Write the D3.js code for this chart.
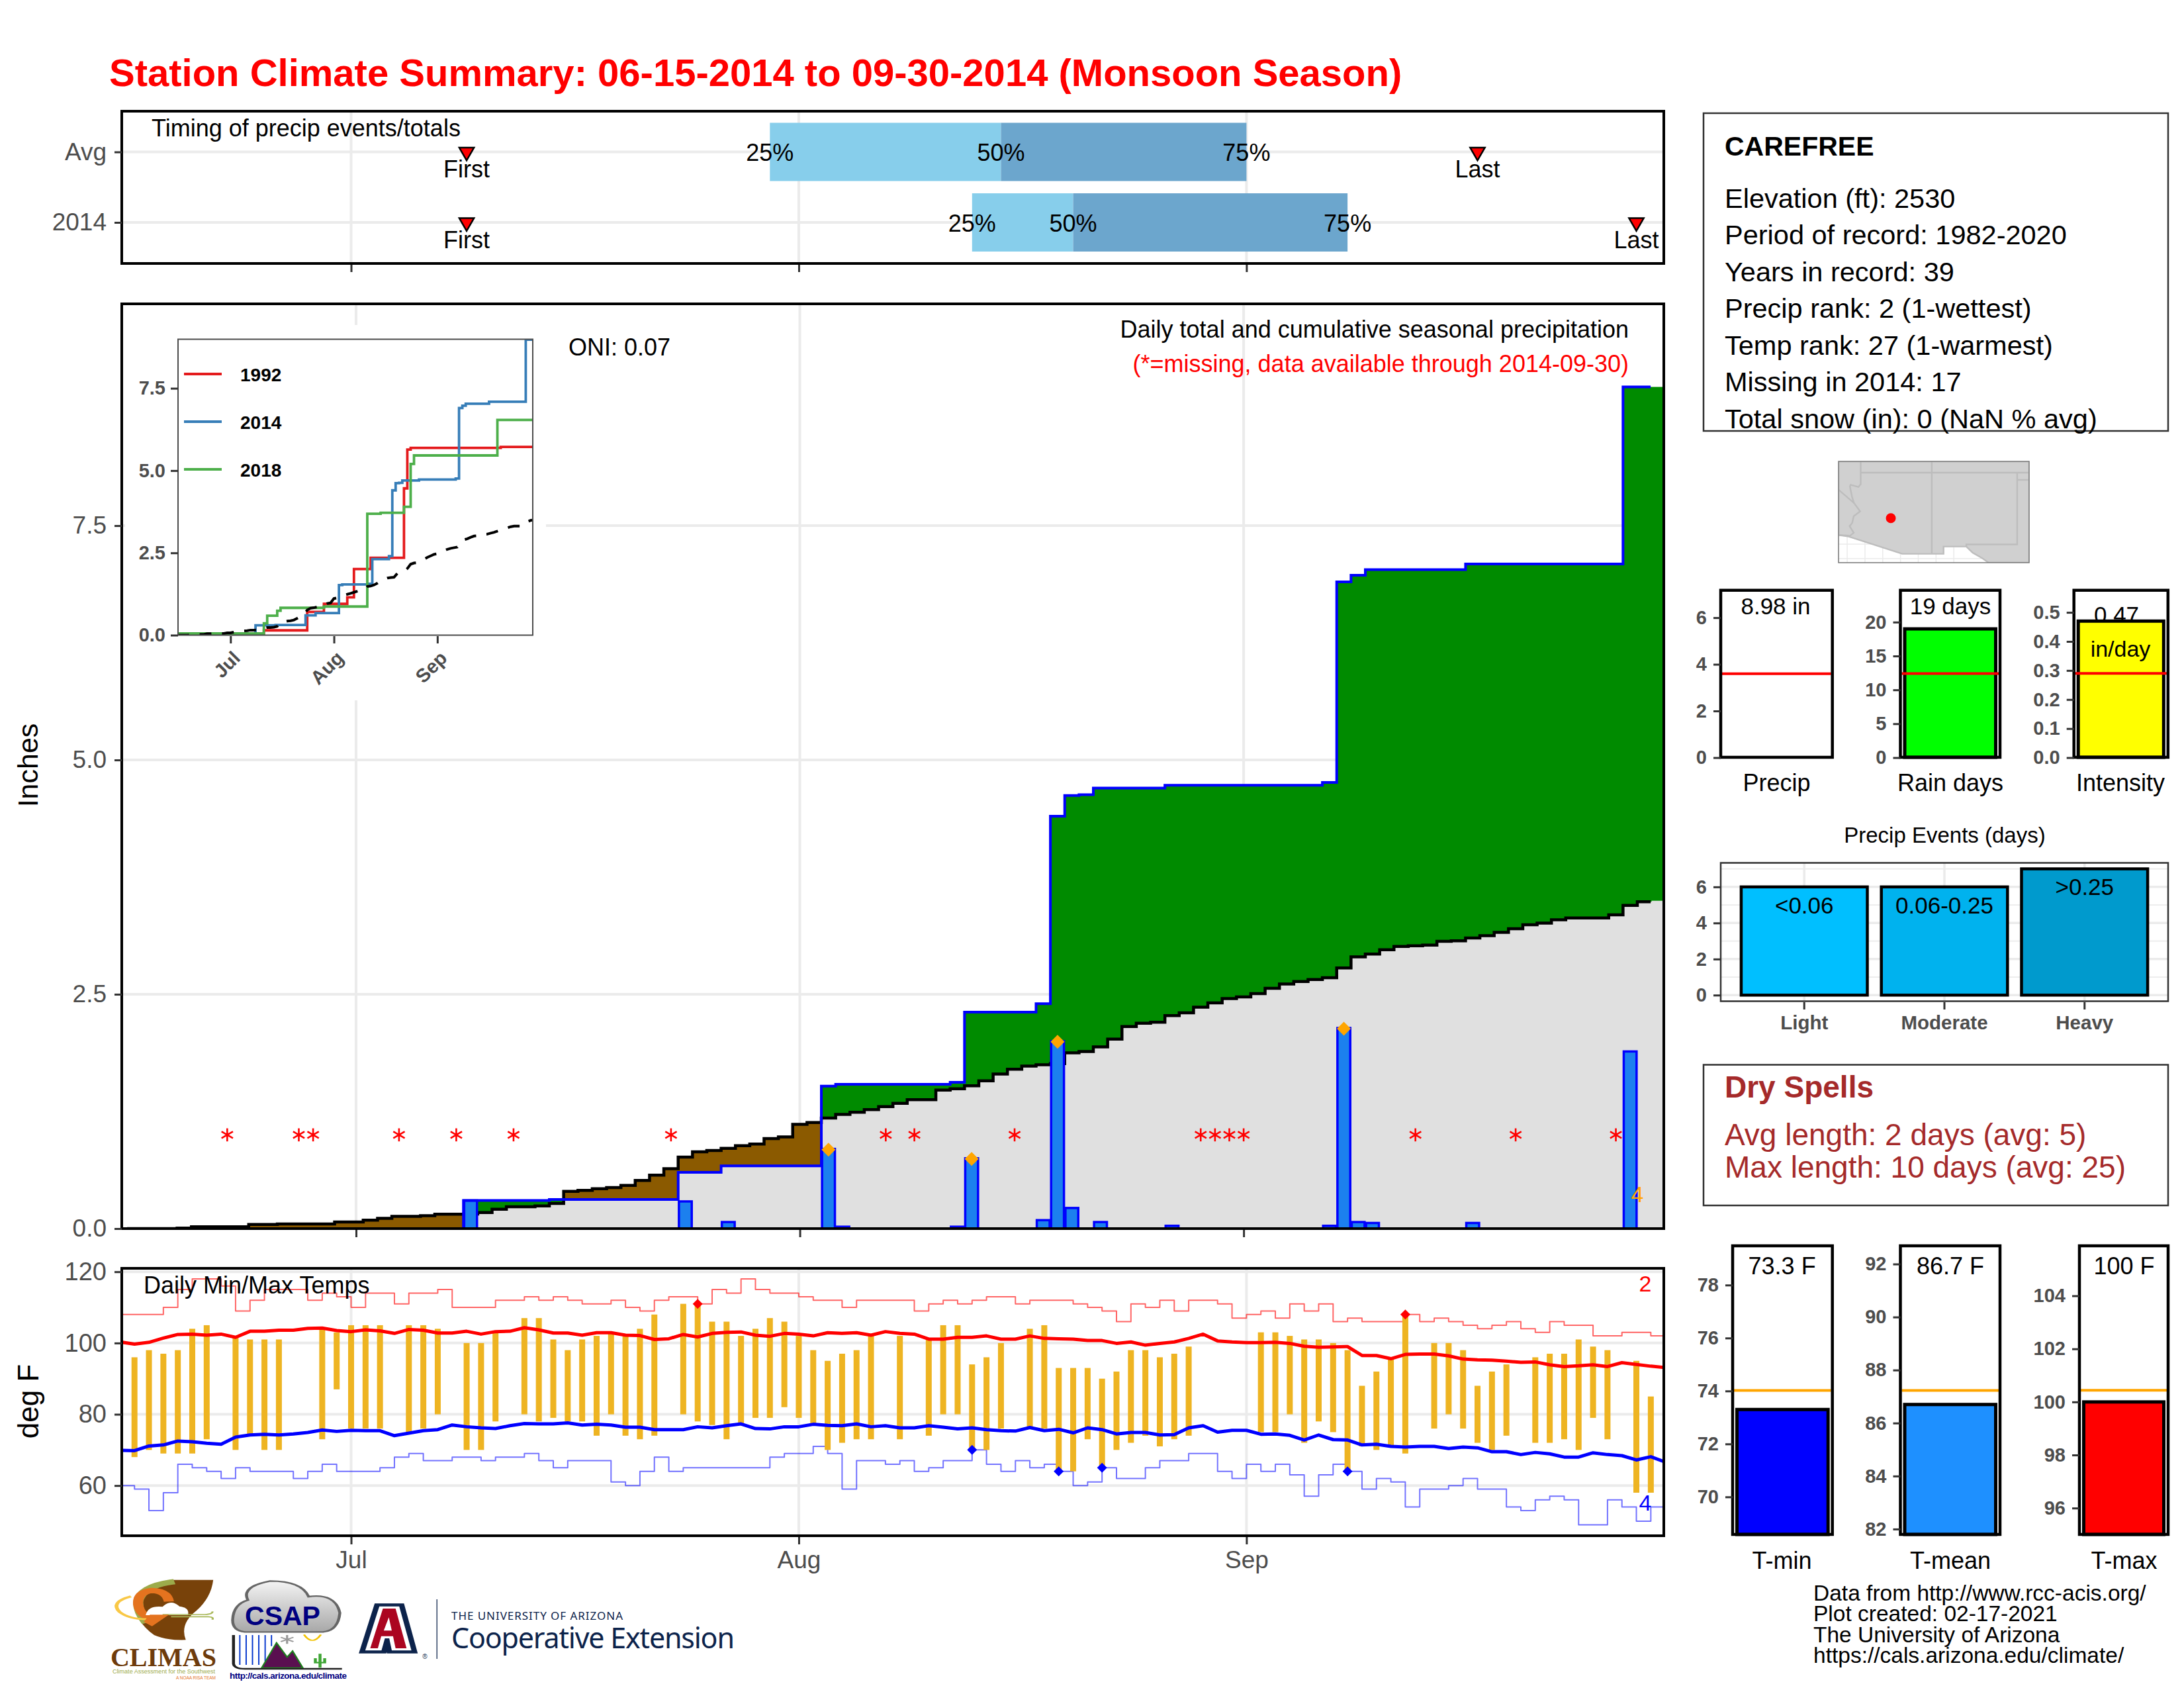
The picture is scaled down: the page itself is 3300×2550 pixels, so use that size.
<!DOCTYPE html>
<html>
<head>
<meta charset="utf-8">
<script src="https://cdn.jsdelivr.net/npm/d3@7"></script>
<style>
  body { margin: 0; background: #fff; }
  text { font-family: "Liberation Sans", Arial, sans-serif; }
</style>
</head>
<body>
<svg id="chart" width="3300" height="2550"></svg>
<script>
// all series are indexed by day number, day 0 = Jun 15 2014
var monthDays = [16, 47, 78];
var monthLabels = ['Jul', 'Aug', 'Sep'];

var timingRows = ['Avg', '2014'];
var timingFirst = [24, 24];
var timingLast = [94, 105];
var timing25 = [45, 59];
var timing50 = [61, 66];
var timing75 = [78, 85];

var climPrecip = [0,0,0,0,0.005,0.02,0.02,0.02,0.02,0.045,
  0.045,0.05,0.05,0.05,0.05,0.07,0.07,0.09,0.11,0.13,
  0.13,0.137,0.153,0.153,0.155,0.172,0.207,0.233,0.233,0.242,
  0.268,0.398,0.407,0.426,0.438,0.461,0.513,0.57,0.64,0.763,
  0.819,0.833,0.857,0.885,0.902,0.96,0.979,1.113,1.132,1.18,
  1.218,1.242,1.27,1.302,1.337,1.376,1.376,1.478,1.492,1.524,
  1.576,1.65,1.7,1.734,1.748,1.76,1.875,1.889,1.938,2.022,
  2.156,2.191,2.202,2.272,2.303,2.363,2.409,2.455,2.472,2.507,
  2.564,2.609,2.637,2.658,2.676,2.781,2.9,2.929,2.975,3.01,
  3.017,3.024,3.066,3.07,3.1,3.125,3.16,3.2,3.241,3.259,
  3.294,3.315,3.315,3.315,3.347,3.449,3.488,3.498];

var rainDays = [24,30,39,42,49,50,58,59,64,65,66,67,68,73,84,85,86,87,94,105];
var rainAmounts = [0.30,0.01,0.29,0.07,0.85,0.02,0.02,0.75,0.09,2.00,0.22,0.01,0.07,0.03,0.03,2.14,0.07,0.06,0.06,1.89];
var topRainDays = [49, 59, 65, 85];
var missingDays = [7,12,13,19,23,27,38,53,55,62,75,76,77,78,90,97,104];

var tempHigh = [null,96,98,97,98,104,105,null,102,101,101,101,null,null,104,103,105,105,105,null,
  105,105,104,null,100,100,103,null,107,107,101,98,101,102,103,102,104,108,null,
  111,111,106,106,102,104,107,106,102,98,95,97,98,102,null,102,null,
  101,105,105,94,96,100,null,104,105,93,93,93,90,92,98,98,96,97,99,null,null,null,null,
  103,103,102,101,101,100,98,88,92,96,108,null,100,100,98,88,92,94,null,96,97,97,101,99,98,null,95,85,null];
var tempLow = [null,68,70,69,69,69,73,null,70,74,70,70,null,null,73,87,76,76,76,null,
  75,76,80,null,70,70,78,null,80,78,79,78,78,74,80,74,73,74,null,
  80,78,77,73,77,79,79,82,79,77,70,72,73,73,null,73,null,
  74,80,80,70,70,76,null,76,76,64,64,73,65,70,72,74,71,73,74,null,null,null,null,
  75,75,80,72,78,75,64,71,70,71,69,null,76,80,76,72,70,74,null,72,72,73,70,79,73,null,58,58,null];

var normalHigh = [100.3,99.7,100.2,101.4,102.4,102.5,102.2,102.5,101.6,103.3,
  103.3,103.6,103.6,104.1,104.2,103.5,103.2,103.7,103.4,102.7,
  103.8,103.6,102.8,102.8,103.3,102.5,103.2,103.3,104.3,103.7,
  102.8,102.8,102.2,102.9,102.9,102.2,102.1,101,101.2,102.4,
  101.7,102.7,103,103.1,102.2,101.9,102.7,102.5,102,102.9,
  102.7,102.9,102.2,103.2,102.7,102.5,101.1,101.1,101.6,101.6,
  102,101.1,101.1,102,101.3,101.2,101.1,100.7,100.7,99.9,
  100.3,99.4,99.9,100.3,101.3,102.5,100.6,100.3,100.1,100.1,
  100.2,99.9,99.1,98.8,98.9,99,96.5,96.5,95.6,96.8,
  96.9,96.9,96.4,95.5,95.3,95.2,94.9,94.6,94.7,93.9,
  93.4,93.6,93.9,93.4,94.5,94,93.5,93.1];
var normalLow = [69.9,69.8,71.1,71.4,72.5,72.3,71.9,71.6,73.6,74.2,
  74.4,74.2,74.5,74.9,75.6,75.2,75.5,75.4,75.4,74,
  74.7,75.4,75.7,77,76.5,76.2,76,76.8,77.4,77.3,
  77.3,77.6,77,77.2,77,76.4,76.4,75.7,75.7,75.7,
  76.5,76.2,76.8,77.3,76,75.9,76.5,76.5,77.2,76.9,
  76.8,77.3,76.5,76.8,76.2,76.2,76.8,76.4,75.9,76.2,
  75.7,75.4,75.3,76.3,75.4,75.8,74.8,76.2,75.7,74.5,
  74.9,74.9,74.2,74.3,76.2,76.8,75,75.5,75.5,74.4,
  74.5,74.1,72.8,74.2,72.9,72.8,71.4,71.6,71,70.8,
  71,71,70.4,70.8,70.6,69.5,69.5,68.7,69.3,68.9,
  68,68,69.2,68.7,68.4,67.2,68.1,66.6];
var recordHigh = [108,108,108,110,115,118,118,116,109,112,
  115,115,115,112,114,113,110,114,114,111,
  114,114,115,110,110,110,112,112,113,112,
  113,112,111,111,112,110,109,112,113,113,
  111,115,114,118,115,114,114,113,112,112,
  110,112,112,112,112,109,111,112,111,112,
  113,113,111,112,112,112,111,110,109,106,
  111,110,112,109,112,112,111,107,108,109,
  107,111,109,111,106,107,106,106,106,108,
  106,107,106,105,104,105,106,104,103,106,
  105,105,102,102,103,103,102,102];
var recordLow = [60,59,53,58,66,65,64,62,65,64,
  64,64,62,64,66,64,64,64,65,68,
  69,67,67,68,68,67,68,68,69,67,
  65,67,67,67,61,60,64,68,64,65,
  65,65,65,65,65,68,69,69,71,69,
  59,67,67,66,67,64,65,67,67,70,
  66,64,67,65,66,64,60,61,65,62,
  62,65,67,67,69,69,64,62,66,64,
  66,63,57,63,66,64,59,62,61,54,
  59,59,60,62,59,59,54,53,56,57,
  56,49,49,56,54,50,54,54];
var hotDays = [40, 89];
var hotTemps = [111, 108];
var coldDays = [59, 65, 68, 85];
var coldTemps = [70, 64, 65, 64];

var y1992Days = [0,26,39,44,51,53,58,68,69,70,97,107];
var y1992Vals = [0,0.146,0.705,0.95,1.15,2.01,2.35,4.46,5.64,5.69,5.72,5.72];
var y2018Days = [0,26,27,30,31,44,57,61,68,70,71,96,107];
var y2018Vals = [0.05,0.36,0.59,0.74,0.83,0.87,3.69,3.72,3.9,5.2,5.46,6.54,6.54];

var stationLines = ['Elevation (ft): 2530', 'Period of record: 1982-2020', 'Years in record: 39',
  'Precip rank: 2 (1-wettest)', 'Temp rank: 27 (1-warmest)', 'Missing in 2014: 17', 'Total snow (in): 0 (NaN % avg)'];
var eventCats = ['Light', 'Moderate', 'Heavy'];
var eventCounts = [6, 6, 7];
var eventLabels = ['<0.06', '0.06-0.25', '>0.25'];
var eventColors = ['#00BFFF', '#00B2EE', '#009ACD'];
var creditLines = ['Data from http://www.rcc-acis.org/', 'Plot created: 02-17-2021', 'The University of Arizona', 'https://cals.arizona.edu/climate/'];

var mapBorderLon = [-115.61,-102.2,-102.2,-105.05,-105.5,-106.17,-106.62,-108.22,-108.22,-111.13,-114.88,-115.61];
var mapBorderLat = [37.79,37.79,30.71,30.71,31.02,31.4,31.84,31.84,31.33,31.33,32.53,32.64];
var riverLon = [-114.05,-114.05,-114.21,-114.76,-114.81,-114.65,-114.52,-114.09,-114.54,-114.65,-114.83,-114.54,-114.88];
var riverLat = [37.79,36.2,36,36.15,36.04,35.27,34.88,34.3,33.96,33.49,33.26,32.8,32.53];
var stateLines = [
  [[-115.61,35.81],[-114.52,34.88]],
  [[-114.05,37],[-102.2,37]],
  [[-109.05,37.79],[-109.05,31.33]],
  [[-103.04,37],[-103.04,31.98],[-106.62,31.98],[-106.62,31.84]],
  [[-103.04,36.5],[-102.2,36.5]],
  [[-115.61,32.64],[-114.88,32.6]]
];
var mapGridLon = [-115,-113.75,-112.5,-111.25,-110,-108.75,-107.5];
var mapGridLat = [32, 31];
var stationLon = -111.93, stationLat = 33.82;

var GRID = '#EBEBEB', TICK = '#333333', LABEL = '#4D4D4D';
var svg = d3.select('#chart');
var allDays = d3.range(108);

var precipByDay = allDays.map(function (d) {
  var i = rainDays.indexOf(d);
  return i < 0 ? 0 : rainAmounts[i];
});
var cum2014 = Array.from(d3.cumsum(precipByDay));

function txt(g, x, y, s, size, opts) {
  opts = opts || {};
  return g.append('text').attr('x', x).attr('y', y)
    .attr('font-size', size)
    .attr('fill', opts.fill || '#000')
    .attr('font-weight', opts.bold ? 'bold' : 'normal')
    .attr('text-anchor', opts.anchor || 'start')
    .attr('dominant-baseline', opts.base || 'central')
    .text(s);
}

function frame(g, x0, y0, x1, y1, w, color) {
  g.append('rect').attr('x', x0).attr('y', y0).attr('width', x1 - x0).attr('height', y1 - y0)
    .attr('fill', 'none').attr('stroke', color || '#000').attr('stroke-width', w || 4);
}

function clip(id, x0, y0, x1, y1) {
  svg.append('clipPath').attr('id', id).append('rect')
    .attr('x', x0).attr('y', y0).attr('width', x1 - x0).attr('height', y1 - y0);
}

// d3 axis with ggplot looking ticks and text
function axis(g, gen, translate, size, color, bold, pad) {
  var a = g.append('g').attr('transform', translate).call(gen.tickSize(11).tickPadding(pad || 12));
  a.select('.domain').remove();
  a.selectAll('.tick line').attr('stroke', TICK).attr('stroke-width', 3);
  a.selectAll('.tick text')
    .attr('font-size', size)
    .attr('font-family', '"Liberation Sans", Arial, sans-serif')
    .attr('font-weight', bold ? 'bold' : 'normal')
    .attr('fill', color || LABEL);
  return a;
}

function gridV(g, xs, vals, y0, y1, w) {
  g.selectAll(null).data(vals).enter().append('line')
    .attr('x1', xs).attr('x2', xs).attr('y1', y0).attr('y2', y1)
    .attr('stroke', GRID).attr('stroke-width', w || 4);
}
function gridH(g, ys, vals, x0, x1, w) {
  g.selectAll(null).data(vals).enter().append('line')
    .attr('y1', ys).attr('y2', ys).attr('x1', x0).attr('x2', x1)
    .attr('stroke', GRID).attr('stroke-width', w || 4);
}

function downTriangle(g, x, y) {
  g.append('path').attr('d', d3.symbol(d3.symbolTriangle, 215)())
    .attr('transform', 'translate(' + x + ',' + y + ') rotate(180)')
    .attr('fill', 'red').attr('stroke', '#000').attr('stroke-width', 2.5);
}

function diamond(g, x, y, r, color) {
  g.append('path').attr('d', 'M0,' + (-r) + 'L' + r + ',0L0,' + r + 'L' + (-r) + ',0Z')
    .attr('transform', 'translate(' + x + ',' + y + ')').attr('fill', color);
}

function drawTitle() {
  txt(svg, 165, 130, 'Station Climate Summary: 06-15-2014 to 09-30-2014 (Monsoon Season)', 58,
    { bold: true, fill: 'red', base: 'auto' });
}

function drawTiming() {
  var g = svg.append('g');
  var x = d3.scaleLinear().domain([0.12, 106.9]).range([184, 2514]);
  var y = d3.scalePoint().domain(timingRows).range([229.5, 336]);
  gridV(g, function (d) { return x(d); }, monthDays, 168, 398);
  gridH(g, function (d) { return y(d); }, timingRows, 184, 2514);
  timingRows.forEach(function (row, i) {
    var yc = y(row);
    g.append('rect').attr('x', x(timing25[i])).attr('width', x(timing50[i]) - x(timing25[i]))
      .attr('y', yc - 44).attr('height', 88).attr('fill', '#87CEEB');
    g.append('rect').attr('x', x(timing50[i])).attr('width', x(timing75[i]) - x(timing50[i]))
      .attr('y', yc - 44).attr('height', 88).attr('fill', '#6CA6CD');
    txt(g, x(timing25[i]), yc + 1, '25%', 36, { anchor: 'middle' });
    txt(g, x(timing50[i]), yc + 1, '50%', 36, { anchor: 'middle' });
    txt(g, x(timing75[i]), yc + 1, '75%', 36, { anchor: 'middle' });
    downTriangle(g, x(timingFirst[i]), yc);
    downTriangle(g, x(timingLast[i]), yc);
    txt(g, x(timingFirst[i]), yc + 26, 'First', 36, { anchor: 'middle' });
    txt(g, x(timingLast[i]), yc + 26, 'Last', 36, { anchor: 'middle' });
  });
  txt(g, 229, 193, 'Timing of precip events/totals', 36);
  frame(g, 184, 168, 2514, 398);
  axis(g, d3.axisLeft(y), 'translate(184,0)', 37);
  axis(g, d3.axisBottom(x).tickValues(monthDays).tickFormat(''), 'translate(0,400)', 36);
}

function drawPrecip() {
  var g = svg.append('g');
  clip('clip-main', 184, 459, 2514, 1856);
  var x = d3.scaleLinear().domain([-0.366, 107.35]).range([184, 2514]);
  var y = d3.scaleLinear().domain([0, 9.87]).range([1856, 458.5]);
  var yTicks = [0, 2.5, 5, 7.5];

  gridV(g, function (d) { return x(d); }, monthDays, 459, 1856);
  gridH(g, function (d) { return y(d); }, yTicks, 184, 2514);

  var body = g.append('g').attr('clip-path', 'url(#clip-main)');
  // last point runs the ribbons out to the panel edge
  var areaDays = allDays.concat([108]);
  var clim = function (d) { return climPrecip[Math.min(d, 107)]; };
  var obs = function (d) { return cum2014[Math.min(d, 107)]; };
  function ribbon(lo, hi, fill) {
    body.append('path').datum(areaDays).attr('fill', fill)
      .attr('d', d3.area().curve(d3.curveStep).x(function (d) { return x(d); })
        .y0(function (d) { return y(lo(d)); }).y1(function (d) { return y(hi(d)); }));
  }
  ribbon(function () { return 0; }, function (d) { return Math.min(clim(d), obs(d)); }, '#E0E0E0');
  ribbon(function (d) { return Math.min(clim(d), obs(d)); }, obs, '#008B00');
  ribbon(obs, function (d) { return Math.max(clim(d), obs(d)); }, '#8B5A00');

  var lineDays = d3.range(107).concat([106.43]);
  var pick = function (arr) { return function (d) { return arr[Math.floor(d)]; }; };
  var stepLine = function (arr) {
    return d3.line().curve(d3.curveStep).x(function (d) { return x(d); })
      .y(function (d) { return y(pick(arr)(d)); });
  };
  body.append('path').datum(lineDays).attr('fill', 'none').attr('stroke', '#000').attr('stroke-width', 4.5)
    .attr('d', stepLine(climPrecip));

  // trace amounts of 0.01 disappear behind the panel border in the original
  var visibleRain = rainDays.filter(function (d) { return precipByDay[d] >= 0.015; });
  body.selectAll('.rain').data(visibleRain).enter().append('rect').attr('class', 'rain')
    .attr('x', function (d) { return x(d) - 9.7; }).attr('width', 19.4)
    .attr('y', function (d) { return y(precipByDay[d]); })
    .attr('height', function (d) { return y(0) - y(precipByDay[d]); })
    .attr('fill', '#1C80EE').attr('stroke', '#0000FF').attr('stroke-width', 3.5);

  body.append('path').datum(lineDays).attr('fill', 'none').attr('stroke', '#0000FF').attr('stroke-width', 4)
    .attr('d', stepLine(cum2014));

  topRainDays.forEach(function (d) { diamond(g, x(d), y(precipByDay[d]) + 1, 10.5, '#FFA500'); });

  g.selectAll('.missing').data(missingDays).enter().append('path').attr('class', 'missing')
    .attr('d', d3.symbol(d3.symbolAsterisk, 280)())
    .attr('transform', function (d) { return 'translate(' + x(d) + ',' + y(1) + ')'; })
    .attr('fill', 'none').attr('stroke', 'red').attr('stroke-width', 2.6);

  txt(g, 2474, 1804, '4', 34, { fill: '#FFA500', anchor: 'middle' });
  txt(g, 859, 524, 'ONI: 0.07', 36);
  txt(g, 2461, 497, 'Daily total and cumulative seasonal precipitation', 36, { anchor: 'end' });
  txt(g, 2461, 549, '(*=missing, data available through 2014-09-30)', 36, { anchor: 'end', fill: 'red' });

  frame(g, 184, 459, 2514, 1856);
  axis(g, d3.axisLeft(y).tickValues(yTicks).tickFormat(d3.format('.1f')), 'translate(184,0)', 37);
  axis(g, d3.axisBottom(x).tickValues(monthDays).tickFormat(''), 'translate(0,1858)', 36);
  txt(g, 0, 0, 'Inches', 43, { anchor: 'middle' }).attr('transform', 'translate(42,1156) rotate(-90)');

  drawInset();
}

function drawInset() {
  var g = svg.append('g');
  g.append('rect').attr('x', 189).attr('y', 491).attr('width', 636).attr('height', 567).attr('fill', '#fff');
  clip('clip-inset', 269, 512.5, 805, 959.5);
  var x = d3.scaleLinear().domain([0.27, 106.6]).range([269, 805]);
  var y = d3.scaleLinear().domain([0, 8.98]).range([959.5, 513]);
  var body = g.append('g').attr('clip-path', 'url(#clip-inset)');

  function sparse(days, vals, color) {
    body.append('path').datum(days).attr('fill', 'none').attr('stroke', color).attr('stroke-width', 3.8)
      .attr('d', d3.line().curve(d3.curveStepAfter).x(function (d) { return x(d); })
        .y(function (d, i) { return y(vals[i]); }));
  }
  sparse(y1992Days, y1992Vals, '#E41A1C');
  body.append('path').datum(allDays).attr('fill', 'none').attr('stroke', '#377EB8').attr('stroke-width', 3.8)
    .attr('d', d3.line().curve(d3.curveStep).x(function (d) { return x(d); }).y(function (d) { return y(cum2014[d]); }));
  sparse(y2018Days, y2018Vals, '#4DAF4A');
  body.append('path').datum(allDays).attr('fill', 'none').attr('stroke', '#000').attr('stroke-width', 4)
    .attr('stroke-dasharray', '18,16')
    .attr('d', d3.line().x(function (d) { return x(d); }).y(function (d) { return y(climPrecip[d]); }));

  var legYears = ['1992', '2014', '2018'];
  var legColors = ['#E41A1C', '#377EB8', '#4DAF4A'];
  var legY = d3.scalePoint().domain(legYears).range([565, 709]);
  legYears.forEach(function (yr, i) {
    g.append('line').attr('x1', 278).attr('x2', 335).attr('y1', legY(yr)).attr('y2', legY(yr))
      .attr('stroke', legColors[i]).attr('stroke-width', 4);
    txt(g, 363, legY(yr) + 1, yr, 28, { bold: true });
  });

  frame(g, 269, 512.5, 805, 959.5, 2, '#4D4D4D');
  axis(g, d3.axisLeft(y).tickValues([0, 2.5, 5, 7.5]).tickFormat(d3.format('.1f')), 'translate(269,0)', 29, LABEL, true, 8);
  var a = axis(g, d3.axisBottom(x).tickValues(monthDays).tickFormat(function (d, i) { return monthLabels[i]; }),
    'translate(0,961)', 29, LABEL, true, 6);
  a.selectAll('.tick text').attr('text-anchor', 'end').attr('dy', 0)
    .attr('transform', 'translate(4,23) rotate(-45)');
}

function drawTemps() {
  var g = svg.append('g');
  clip('clip-temp', 184, 1916, 2514, 2320);
  var x = d3.scaleLinear().domain([0.12, 106.9]).range([184, 2514]);
  var y = d3.scaleLinear().domain([60, 120]).range([2244.2, 1921.2]);
  var yTicks = [60, 80, 100, 120];
  gridV(g, function (d) { return x(d); }, monthDays, 1916, 2320);
  gridH(g, function (d) { return y(d); }, yTicks, 184, 2514);

  var body = g.append('g').attr('clip-path', 'url(#clip-temp)');
  function series(arr, curve, color, w, op) {
    body.append('path').datum(arr).attr('fill', 'none').attr('stroke', color).attr('stroke-width', w)
      .attr('stroke-opacity', op).attr('stroke-linejoin', 'round')
      .attr('d', d3.line().curve(curve).x(function (d, i) { return x(i); }).y(function (d) { return y(d); }));
  }
  series(recordHigh, d3.curveStepAfter, 'red', 2, 0.6);
  series(recordLow, d3.curveStepAfter, 'blue', 2, 0.55);

  var observed = allDays.filter(function (d) { return tempHigh[d] !== null; });
  body.selectAll('.range').data(observed).enter().append('rect').attr('class', 'range')
    .attr('x', function (d) { return x(d) - 4.5; }).attr('width', 9)
    .attr('y', function (d) { return y(tempHigh[d]); })
    .attr('height', function (d) { return y(tempLow[d]) - y(tempHigh[d]); })
    .attr('fill', '#EEB422');

  series(normalHigh, d3.curveLinear, 'red', 5, 1);
  series(normalLow, d3.curveLinear, 'blue', 5, 1);

  hotDays.forEach(function (d, i) { diamond(g, x(d), y(hotTemps[i]), 7.5, 'red'); });
  coldDays.forEach(function (d, i) { diamond(g, x(d), y(coldTemps[i]), 7.5, 'blue'); });

  txt(g, 217, 1941, 'Daily Min/Max Temps', 36);
  txt(g, 2486, 1939, '2', 34, { fill: 'red', anchor: 'middle' });
  txt(g, 2486, 2270, '4', 34, { fill: 'blue', anchor: 'middle' });

  frame(g, 184, 1916, 2514, 2320);
  axis(g, d3.axisLeft(y).tickValues(yTicks), 'translate(184,0)', 38);
  axis(g, d3.axisBottom(x).tickValues(monthDays).tickFormat(function (d, i) { return monthLabels[i]; }),
    'translate(0,2322)', 37, LABEL, false, 10);
  txt(g, 0, 0, 'deg F', 44, { anchor: 'middle' }).attr('transform', 'translate(42,2117) rotate(-90)');
}

function drawInfoBox() {
  var g = svg.append('g');
  frame(g, 2574, 171, 3276, 651, 2.5, '#333');
  txt(g, 2606, 221, 'CAREFREE', 41, { bold: true });
  var y = d3.scalePoint().domain(stationLines).range([299, 632]);
  stationLines.forEach(function (s) { txt(g, 2606, y(s), s, 41.5); });
}

function drawMap() {
  var g = svg.append('g');
  var x = d3.scaleLinear().domain([-115.61, -102.2]).range([2778, 3066]);
  var y = d3.scaleLinear().domain([37.79, 30.71]).range([697, 850]);
  clip('clip-map', 2778, 697, 3066, 850);
  var body = g.append('g').attr('clip-path', 'url(#clip-map)');
  gridV(body, function (d) { return x(d); }, mapGridLon, 697, 850, 1.5);
  gridH(body, function (d) { return y(d); }, mapGridLat, 2778, 3066, 1.5);
  var geo = d3.line().x(function (d) { return x(d[0]); }).y(function (d) { return y(d[1]); });
  var outline = mapBorderLon.map(function (lon, i) { return [lon, mapBorderLat[i]]; });
  body.append('path').attr('d', geo(outline) + 'Z').attr('fill', '#D0D0D0').attr('stroke', '#BDBDBD').attr('stroke-width', 2.4);
  var river = riverLon.map(function (lon, i) { return [lon, riverLat[i]]; });
  stateLines.concat([river]).forEach(function (l) {
    body.append('path').attr('d', geo(l)).attr('fill', 'none').attr('stroke', '#BDBDBD').attr('stroke-width', 2.4);
  });
  g.append('circle').attr('cx', x(stationLon)).attr('cy', y(stationLat)).attr('r', 7.5).attr('fill', 'red');
  frame(g, 2778, 697, 3066, 850, 1.5, '#777');
}

function barPanel(o) {
  var g = svg.append('g');
  var y = d3.scaleLinear().domain(o.domain).range(o.range);
  if (o.before) o.before(g, y);
  if (o.fill) {
    g.append('rect').attr('x', o.x0 + 6.5).attr('width', o.x1 - o.x0 - 13)
      .attr('y', Math.max(y(o.value), o.top)).attr('height', o.bottom - Math.max(y(o.value), o.top))
      .attr('fill', o.fill).attr('stroke', '#000').attr('stroke-width', 5);
  }
  g.append('line').attr('x1', o.x0 + 2).attr('x2', o.x1 - 2).attr('y1', y(o.ref)).attr('y2', y(o.ref))
    .attr('stroke', o.refColor).attr('stroke-width', 4);
  frame(g, o.x0, o.top, o.x1, o.bottom, 4.5);
  axis(g, d3.axisLeft(y).tickValues(o.ticks).tickFormat(o.fmt || d3.format('d')),
    'translate(' + o.x0 + ',0)', 29, LABEL, true, 10);
  txt(g, o.labelX, o.nameY, o.name, 36, { anchor: 'middle' });
  if (o.after) o.after(g, y);
}

function drawSmallBars() {
  var top = 891.7, bottom = 1144;
  barPanel({ x0: 2600, x1: 2768.7, top: top, bottom: bottom, domain: [0, 6], range: [1144.5, 933.1], value: 8.98, ref: 3.6,
    refColor: 'red', ticks: [0, 2, 4, 6], name: 'Precip', labelX: 2684.5, nameY: 1182,
    after: function (g) { txt(g, 2683, 915, '8.98 in', 35, { anchor: 'middle' }); } });
  barPanel({ x0: 2871.5, x1: 3022, top: top, bottom: bottom, domain: [0, 20], range: [1144.5, 939.8], value: 19, ref: 12.4,
    refColor: 'red', fill: '#00FF00', ticks: [0, 5, 10, 15, 20], name: 'Rain days', labelX: 2947, nameY: 1182,
    after: function (g) { txt(g, 2947, 915, '19 days', 35, { anchor: 'middle' }); } });
  barPanel({ x0: 3133.7, x1: 3275.8, top: top, bottom: bottom, domain: [0, 0.5], range: [1144.5, 925.1], value: 0.47, ref: 0.29,
    refColor: 'red', fill: '#FFFF00', ticks: [0, 0.1, 0.2, 0.3, 0.4, 0.5], fmt: d3.format('.1f'), name: 'Intensity', labelX: 3204, nameY: 1182,
    before: function (g) { txt(g, 3198, 928, '0.47', 35, { anchor: 'middle' }); },
    after: function (g) { txt(g, 3204, 980, 'in/day', 34, { anchor: 'middle' }); } });

  var tTop = 1882, tBottom = 2318;
  barPanel({ x0: 2618, x1: 2768.7, top: tTop, bottom: tBottom, domain: [70, 78], range: [2261.3, 1941.3], value: 73.3, ref: 74.02,
    refColor: '#FFA500', fill: '#0000FF', ticks: [70, 72, 74, 76, 78], name: 'T-min', labelX: 2692.6, nameY: 2357.5,
    after: function (g) { txt(g, 2692.6, 1912, '73.3 F', 36, { anchor: 'middle' }); } });
  barPanel({ x0: 2871.5, x1: 3022, top: tTop, bottom: tBottom, domain: [82, 92], range: [2309.9, 1909.5], value: 86.7, ref: 87.23,
    refColor: '#FFA500', fill: '#1E90FF', ticks: [82, 84, 86, 88, 90, 92], name: 'T-mean', labelX: 2947, nameY: 2357.5,
    after: function (g) { txt(g, 2947, 1912, '86.7 F', 36, { anchor: 'middle' }); } });
  barPanel({ x0: 3142, x1: 3276, top: tTop, bottom: tBottom, domain: [96, 104], range: [2278.2, 1957.5], value: 100, ref: 100.44,
    refColor: '#FFA500', fill: '#FF0000', ticks: [96, 98, 100, 102, 104], name: 'T-max', labelX: 3209.5, nameY: 2357.5,
    after: function (g) { txt(g, 3209.5, 1912, '100 F', 36, { anchor: 'middle' }); } });
}

function drawEvents() {
  var g = svg.append('g');
  var x0 = 2600, x1 = 3276, y0 = 1303.5, y1 = 1512.5;
  var x = d3.scaleBand().domain(eventCats).range([x0, x1]).paddingInner(0.1).paddingOuter(0.146);
  var y = d3.scaleLinear().domain([0, 6]).range([1503.3, 1339.8]);
  txt(g, 2938.5, 1261, 'Precip Events (days)', 33, { anchor: 'middle' });
  gridH(g, function (d) { return y(d); }, [1, 3, 5, 7], x0, x1, 1.8);
  gridH(g, function (d) { return y(d); }, [0, 2, 4, 6], x0, x1, 3.5);
  gridV(g, function (d) { return x(d) + x.bandwidth() / 2; }, eventCats, y0, y1, 3.5);
  g.selectAll('.ev').data(eventCats).enter().append('rect').attr('class', 'ev')
    .attr('x', function (d) { return x(d); }).attr('width', x.bandwidth())
    .attr('y', function (d, i) { return y(eventCounts[i]); })
    .attr('height', function (d, i) { return y(0) - y(eventCounts[i]); })
    .attr('fill', function (d, i) { return eventColors[i]; })
    .attr('stroke', '#000').attr('stroke-width', 4.5);
  eventCats.forEach(function (c, i) {
    txt(g, x(c) + x.bandwidth() / 2, y(eventCounts[i] - 1), eventLabels[i], 35, { anchor: 'middle' });
  });
  frame(g, x0, y0, x1, y1, 2.5, '#333');
  axis(g, d3.axisLeft(y).tickValues([0, 2, 4, 6]).tickFormat(d3.format('d')), 'translate(2600,0)', 29, LABEL, true, 10);
  axis(g, d3.axisBottom(x), 'translate(0,1514)', 29.5, LABEL, true, 9);
}

function drawDrySpells() {
  var g = svg.append('g');
  frame(g, 2574, 1608.5, 3276, 1821, 2.5, '#333');
  txt(g, 2606, 1658, 'Dry Spells', 46, { bold: true, fill: '#A52A2A', base: 'auto' });
  txt(g, 2606, 1729.5, 'Avg length: 2 days (avg: 5)', 46, { fill: '#A52A2A', base: 'auto' });
  txt(g, 2606, 1778.5, 'Max length: 10 days (avg: 25)', 46, { fill: '#A52A2A', base: 'auto' });
}

function drawCredits() {
  var g = svg.append('g');
  var y = d3.scalePoint().domain(creditLines).range([2406, 2500.5]);
  creditLines.forEach(function (s) { txt(g, 2740, y(s), s, 33.5); });
}

// logos are pictures in the original, redrawn roughly here
function drawLogos() {
  var art = svg.append('g').attr('transform', 'translate(150,2340) scale(' + (1 / 1.568) + ',' + (1 / 3) + ')');
  // CLIMAS mark
  art.append('path').attr('fill', '#78420A')
    .attr('d', 'M270 140L170 140Q100 165 85 240Q85 330 130 390Q160 415 205 412Q190 340 230 280Q265 220 270 140Z');
  art.append('path').attr('fill', 'none').attr('stroke', '#9CAB4B').attr('stroke-width', 24)
    .attr('d', 'M178 148Q100 165 92 240Q92 290 112 335');
  art.append('path').attr('fill', 'none').attr('stroke', '#E4731F').attr('stroke-width', 24)
    .attr('d', 'M165 238Q160 190 125 188Q90 195 92 250Q96 300 122 312');
  art.append('path').attr('fill', '#fff').attr('d', 'M110 300Q115 255 150 262Q170 225 190 260Q215 265 210 300Z');
  art.append('path').attr('fill', 'none').attr('stroke', '#F9C846').attr('stroke-width', 9)
    .attr('d', 'M75 215Q25 240 48 285Q70 318 112 318');
  art.append('path').attr('fill', 'none').attr('stroke', '#A9B85A').attr('stroke-width', 5)
    .attr('d', 'M150 297H250Q270 295 268 283M170 307H258Q272 308 268 320');
  art.append('path').attr('fill', '#E4731F').attr('d', 'M120 298H165L125 350L105 330Z');
  // CSAP cloud
  var grad = svg.append('linearGradient').attr('id', 'cloudGrad').attr('x1', 0).attr('x2', 0).attr('y1', 0).attr('y2', 1);
  grad.append('stop').attr('offset', '0%').attr('stop-color', '#F4F4F4');
  grad.append('stop').attr('offset', '100%').attr('stop-color', '#A8A8A8');
  art.append('path').attr('fill', 'url(#cloudGrad)').attr('stroke', '#666').attr('stroke-width', 7)
    .attr('d', 'M345 376Q315 370 316 320Q318 250 352 232Q335 170 405 145Q480 145 496 216Q560 200 570 290Q566 370 530 376Z');
  art.append('path').attr('fill', 'none').attr('stroke', '#0033CC').attr('stroke-width', 3)
    .attr('d', 'M333 390V525M348 390V525M363 390V525M378 390V525M393 390V510M408 390V440');
  art.append('path').attr('fill', 'none').attr('stroke', '#222').attr('stroke-width', 7)
    .attr('d', 'M318 390V520Q320 543 345 543H575');
  art.append('path').attr('fill', '#5A0F50').attr('stroke', '#1E7F1E').attr('stroke-width', 4)
    .attr('d', 'M385 538L420 425L445 490L458 462L482 538Z');
  art.append('path').attr('fill', 'none').attr('stroke', '#F2C200').attr('stroke-width', 5)
    .attr('d', 'M485 388Q505 440 525 388');
  art.append('path').attr('fill', 'none').attr('stroke', '#999').attr('stroke-width', 5)
    .attr('d', 'M445 390V430M430 400L460 420M460 400L430 420');
  art.append('path').attr('fill', 'none').attr('stroke', '#3FA535').attr('stroke-width', 7)
    .attr('d', 'M523 538V475M512 495V515H534V495');
  // block A
  var blockA = 'M672 270H702L728 450H702L696 395H668L660 450H642Z';
  art.append('path').attr('d', blockA).attr('fill', 'none').attr('stroke', '#0C234B').attr('stroke-width', 46).attr('stroke-linejoin', 'miter');
  art.append('path').attr('d', blockA).attr('fill', 'none').attr('stroke', '#fff').attr('stroke-width', 20).attr('stroke-linejoin', 'miter');
  art.append('path').attr('d', blockA).attr('fill', '#AB0520');
  art.append('path').attr('d', 'M686 310L693 370H674Z').attr('fill', '#fff');
  art.append('line').attr('x1', 800).attr('x2', 800).attr('y1', 228).attr('y2', 498).attr('stroke', '#0C234B').attr('stroke-width', 2);

  txt(svg, 247, 2503, 'CLIMAS', 40, { anchor: 'middle', bold: true, fill: '#6E3B0B' }).style('font-family', '"Liberation Serif", serif');
  txt(svg, 170, 2525, 'Climate Assessment for the Southwest', 9, { fill: '#9CAB4B' }).attr('textLength', 155);
  txt(svg, 266, 2534, 'A NOAA RISA TEAM', 6.5, { fill: '#E4731F' }).attr('textLength', 60);
  txt(svg, 427, 2441, 'CSAP', 41, { anchor: 'middle', bold: true, fill: '#000080' });
  txt(svg, 347, 2531, 'http://cals.arizona.edu/climate', 13.5, { bold: true, fill: '#000080' }).attr('textLength', 177);
  txt(svg, 642, 2502, '\u00AE', 10, { anchor: 'middle', fill: '#0C234B' });
  txt(svg, 682, 2440, 'THE UNIVERSITY OF ARIZONA', 17, { fill: '#0C234B' }).attr('textLength', 259).style('font-family', '"Noto Sans", sans-serif');
  txt(svg, 682, 2490, 'Cooperative Extension', 43, { fill: '#0C234B', base: 'auto' }).attr('textLength', 428).style('font-family', '"Noto Sans", sans-serif');
}

document.addEventListener('DOMContentLoaded', function () {
  drawTitle();
  drawTiming();
  drawPrecip();
  drawTemps();
  drawInfoBox();
  drawMap();
  drawSmallBars();
  drawEvents();
  drawDrySpells();
  drawCredits();
  drawLogos();
});
</script>
</body>
</html>
